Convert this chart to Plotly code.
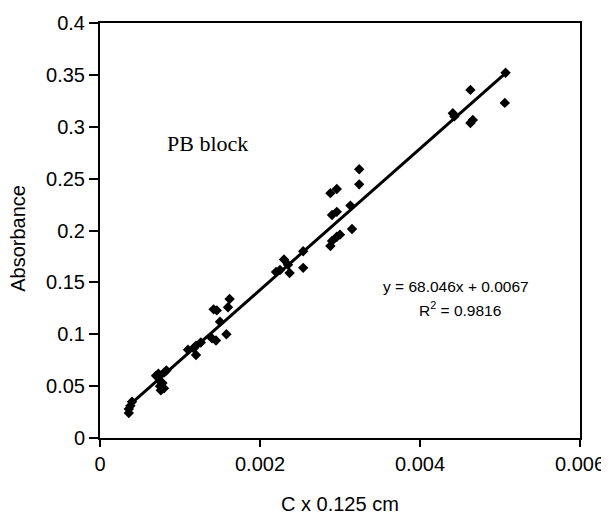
import plotly.graph_objects as go

# Data
conc = [0.00036, 0.00036, 0.00038, 0.00040,
        0.00070, 0.00073, 0.00075, 0.00075, 0.00076, 0.00078, 0.00080, 0.00080, 0.00083,
        0.00110, 0.00117, 0.00120, 0.00120, 0.00126,
        0.00140, 0.00142, 0.00145, 0.00146, 0.00150, 0.00158, 0.00160, 0.00162,
        0.00220, 0.00225, 0.00230, 0.00235, 0.00237, 0.00254, 0.00254,
        0.00288, 0.00290, 0.00290, 0.00288, 0.00296, 0.00296, 0.00296, 0.00300,
        0.00315, 0.00313, 0.00324, 0.00324,
        0.00441, 0.00443, 0.00463, 0.00466, 0.00463,
        0.00507, 0.00506]
absorb = [0.024, 0.028, 0.031, 0.035,
          0.060, 0.062, 0.055, 0.050, 0.046, 0.053, 0.063, 0.048, 0.065,
          0.085, 0.0865, 0.080, 0.089, 0.092,
          0.096, 0.124, 0.094, 0.123, 0.112, 0.100, 0.126, 0.134,
          0.160, 0.162, 0.172, 0.167, 0.159, 0.164, 0.180,
          0.185, 0.190, 0.215, 0.236, 0.240, 0.218, 0.194, 0.196,
          0.2015, 0.224, 0.2445, 0.259,
          0.313, 0.310, 0.3036, 0.3065, 0.3355,
          0.352, 0.323]

slope = 68.046
intercept = 0.0067
r2 = 0.9816

x_ticks = [0, 0.002, 0.004, 0.006]
x_tick_text = ["0", "0.002", "0.004", "0.006"]
y_ticks = [0, 0.05, 0.1, 0.15, 0.2, 0.25, 0.3, 0.35, 0.4]
y_tick_text = ["0", "0.05", "0.1", "0.15", "0.2", "0.25", "0.3", "0.35", "0.4"]

font_family = "Arial, Liberation Sans, sans-serif"

xmin, xmax = min(conc), max(conc)
fit_x = [xmin, xmax]
fit_y = [slope * v + intercept for v in fit_x]

fig = go.Figure()
fig.add_trace(go.Scatter(
    x=fit_x, y=fit_y, mode="lines",
    line=dict(color="black", width=3),
    showlegend=False, hoverinfo="skip"))
fig.add_trace(go.Scatter(
    x=conc, y=absorb, mode="markers",
    marker=dict(symbol="diamond", size=8, color="black"),
    showlegend=False))

fig.update_layout(
    width=601, height=510,
    margin=dict(l=92, r=29, t=15, b=80),
    paper_bgcolor="white", plot_bgcolor="white",
    font=dict(family=font_family, size=20, color="black"),
    xaxis=dict(
        range=[0, 0.006], tickvals=x_ticks, ticktext=x_tick_text,
        showgrid=False, zeroline=False, automargin=False,
        showline=True, linecolor="black", linewidth=2, mirror=True,
        ticks="outside", ticklen=7, tickwidth=2, tickcolor="black",
        tickfont=dict(size=20), ticklabeloverflow="allow",
    ),
    yaxis=dict(
        range=[0, 0.4], tickvals=y_ticks, ticktext=y_tick_text,
        showgrid=False, zeroline=False, automargin=False,
        showline=True, linecolor="black", linewidth=2, mirror=True,
        ticks="outside", ticklen=9, tickwidth=2, tickcolor="black",
        tickfont=dict(size=20),
    ),
    annotations=[
        dict(text="Absorbance", xref="paper", yref="paper", x=0, y=0.48,
             xshift=-82, xanchor="center", yanchor="middle", textangle=-90,
             showarrow=False, font=dict(size=20)),
        dict(text="C x 0.125 cm", xref="paper", yref="paper", x=0.5, y=0,
             yshift=-66, xanchor="center", yanchor="middle",
             showarrow=False, font=dict(size=20)),
        dict(text="PB block", x=0.001338, y=0.2843, xref="x", yref="y",
             showarrow=False, xanchor="center", yanchor="middle",
             font=dict(family="Times New Roman, Liberation Serif, serif", size=22)),
        dict(text=f"y = {slope}x + {intercept}", x=0.00445, y=0.1465,
             xref="x", yref="y", showarrow=False, xanchor="center", yanchor="middle",
             font=dict(size=15.5)),
        dict(text=f"R<sup>2</sup> = {r2}", x=0.0045, y=0.1243,
             xref="x", yref="y", showarrow=False, xanchor="center", yanchor="middle",
             font=dict(size=15.5)),
    ],
)

fig.write_html("out.html")
